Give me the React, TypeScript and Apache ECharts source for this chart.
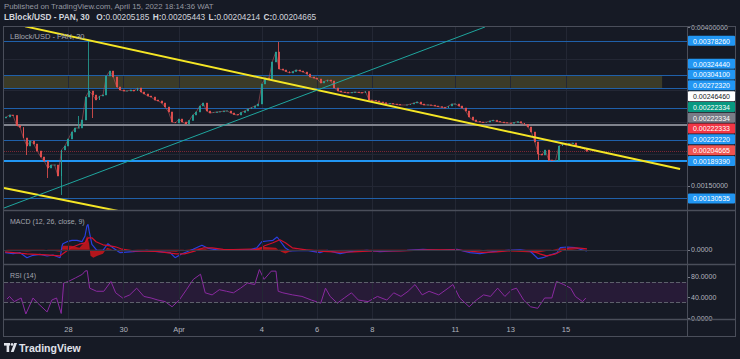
import React, { useEffect, useRef } from "react";
import * as echarts from "echarts";

// ---------- text ----------
const publishedText = "Published on TradingView.com, April 15, 2022 18:14:36 WAT";
const symbolTitle = "LBlock/USD - PAN, 30";
const ohlcNames = ["O", "H", "L", "C"];
const ohlcValues = [0.00205185, 0.00205443, 0.00204214, 0.00204665];
const macdTitle = "MACD (12, 26, close, 9)";
const rsiTitle = "RSI (14)";
const brandText = "TradingView";

// ---------- price candles (day index counted from Mar 25 00:00, 3-hour candles) ----------
const candleStartDay = 0.75;
const candleStepDays = 0.125;
const firstOpen = 0.002569;
const closes = [
  0.002585, 0.002616, 0.002609, 0.002451, 0.002423, 0.002255, 0.002129, 0.002208, 0.00216, 0.00205,
  0.001956, 0.001893, 0.001783, 0.00183, 0.00183, 0.001657, 0.002066, 0.002129, 0.002239, 0.002349,
  0.002412, 0.002412, 0.002538, 0.002899, 0.002994, 0.002931, 0.002852, 0.002915, 0.002931, 0.00323,
  0.003308, 0.003214, 0.003057, 0.003009, 0.002994, 0.002994, 0.003009, 0.002994, 0.003041, 0.002978,
  0.002947, 0.002915, 0.002899, 0.002852, 0.002837, 0.002805, 0.002742, 0.002664, 0.002506, 0.002491,
  0.002553, 0.002506, 0.002475, 0.00253, 0.002616, 0.002664, 0.002758, 0.002805, 0.002679, 0.002648,
  0.002656, 0.002664, 0.002668, 0.002679, 0.002679, 0.002648, 0.002624, 0.002616, 0.002656, 0.002679,
  0.002711, 0.002734, 0.002758, 0.002789, 0.003104, 0.003198, 0.003182, 0.00345, 0.003607, 0.00334,
  0.003324, 0.0033, 0.003277, 0.0033, 0.003324, 0.003308, 0.003292, 0.003261, 0.003214, 0.003198,
  0.003182, 0.00312, 0.003143, 0.003167, 0.003151, 0.003041, 0.002994, 0.002978, 0.00297, 0.002962,
  0.00297, 0.002978, 0.00297, 0.002962, 0.002986, 0.002852, 0.002844, 0.002837, 0.002821, 0.00281,
  0.002789, 0.002797, 0.002789, 0.002781, 0.002774, 0.002774, 0.002774, 0.002789, 0.002805, 0.002821,
  0.002789, 0.002774, 0.002774, 0.00277, 0.002758, 0.002748, 0.002737, 0.002726, 0.002758, 0.002789,
  0.002789, 0.002758, 0.002726, 0.002679, 0.002585, 0.002538, 0.002514, 0.002506, 0.002498, 0.002506,
  0.002522, 0.002533, 0.002514, 0.002506, 0.002495, 0.002491, 0.002486, 0.002498, 0.002511, 0.002491,
  0.002467, 0.002428, 0.002349, 0.002192, 0.002003, 0.001987, 0.002066, 0.001909, 0.001901, 0.001901,
  0.002129, 0.00216, 0.002145, 0.002168, 0.002176, 0.002121, 0.002105, 0.00209, 0.00204665,
];
const wickLows: [number, number][] = [
  [6, 0.001987], [12, 0.001626], [16, 0.001359], [25, 0.002569],
  [154, 0.001909], [157, 0.001894], [159, 0.001894], [160, 0.001894],
];
const wickHighs: [number, number][] = [
  [21, 0.002601], [24, 0.0038], [79, 0.003764],
];

// ---------- axes ----------
const timeTickDays = [3, 5, 7, 10, 12, 14, 17, 19, 21];
const timeTickLabels = ["28", "30", "Apr", "4", "6", "8", "11", "13", "15"];
const priceTickValues = [0.0015, 0.004];
const priceGridValues = [0.0015, 0.002, 0.0025, 0.003, 0.0035];
const macdTickValues = [0];
const rsiTickValues = [0, 40, 80];
const rsiBand = [30, 70];

// ---------- drawings ----------
const levelPrices = [0.0037826, 0.0032444, 0.003041, 0.0027232, 0.0024646, 0.0022222, 0.0018939, 0.00130535];
const levelKinds = ["level", "level", "level", "level", "pivot", "level", "support", "level"];
const currentPrice = 0.00204665;
const tagPrices = [0.0037826, 0.0032444, 0.003041, 0.0027232, 0.0024646, 0.00222334, 0.00222334, 0.00222333, 0.0022222, 0.00204665, 0.0018939, 0.00130535];
const tagKinds = ["level", "level", "level", "level", "pivot", "open", "prev", "low", "level", "last", "level", "level"];
const zoneDays = [0.67, 24.48];
const zonePrices = [0.003041, 0.0032444];
const upperTrend = [[1.43, 0.00401], [25.13, 0.001767]];
const lowerTrend = [[0.67, 0.001469], [5.0, 0.00109]];
const risingTrend = [[0.67, 0.001154], [18.07, 0.004]];

// ---------- indicators ----------
const macdLine = [
  [0.71, -0.0000145], [1.0, -0.0000195], [1.25, -0.0000145], [1.5, -0.0000395], [1.72, -0.0000275],
  [1.97, -0.0000225], [2.23, -0.000031], [2.44, -0.000026], [2.7, -0.0000395], [2.77, 0.000019],
  [2.8, 0.0000305], [2.95, 0.0000405], [3.13, 0.0000475], [3.31, 0.0000475], [3.49, 0.0000405],
  [3.6, 0.000069], [3.67, 0.000119], [3.71, 0.0001275], [3.75, 0.000094], [3.85, 0.0000275],
  [4.03, -0.0000025], [4.25, -0.0000025], [4.43, 0.0000305], [4.61, 0.0000105], [4.87, -0.0000145],
  [5.34, -0.0000095], [5.84, -0.0000025], [6.21, -0.0000095], [6.68, -0.0000145], [6.86, -0.0000395],
  [7.11, -0.0000195], [7.51, 0.0000025], [7.83, 0.0000225], [8.05, 0.0000075], [8.48, -0.0000025],
  [8.96, -0.000001], [9.57, -0.000001], [9.82, 0.0000105], [10.0, 0.0000405], [10.19, 0.000044],
  [10.4, 0.0000475], [10.55, 0.000064], [10.66, 0.000044], [10.84, 0.0000105], [11.02, -0.000006],
  [11.63, -0.0000025], [12.1, -0.0000145], [12.36, -0.0000025], [12.83, -0.0000195], [13.19, -0.0000095],
  [13.8, -0.0000025], [14.27, -0.0000095], [14.74, -0.000006], [15.25, -0.0000025], [15.83, 0.0000025],
  [16.44, -0.0000025], [17.06, 0.0000025], [17.53, -0.0000145], [17.89, -0.0000195], [18.36, -0.0000095],
  [18.87, -0.0000025], [19.34, 0], [19.7, -0.000006], [19.99, -0.0000445], [20.17, -0.0000395],
  [20.42, -0.000026], [20.68, -0.0000145], [20.79, 0.0000105], [21.04, 0.000014], [21.33, 0.0000105],
  [21.51, 0.0000025], [21.76, -0.000006],
];
const signalLine = [
  [0.71, -0.00001], [1.5, -0.00002], [2.2, -0.000025], [2.7, -0.00003], [2.9, -0.00001], [3.1, 0.00001],
  [3.4, 0.000028], [3.6, 0.000035], [3.72, 0.00006], [3.85, 0.00006], [4.0, 0.00004], [4.25, 0.000025],
  [4.5, 0.00002], [4.7, 0.000015], [4.9, 0.000005], [5.3, -0.000005], [6.2, -0.000008], [6.9, -0.00002],
  [7.2, -0.00002], [7.6, -0.000005], [7.9, 0.00001], [8.2, 0.00001], [8.6, 0.000002], [9.6, -0.000001],
  [9.9, 0.000003], [10.1, 0.00002], [10.4, 0.000035], [10.65, 0.00005], [10.85, 0.000035], [11.1, 0.00001],
  [11.6, 0], [12.2, -0.000008], [12.8, -0.000012], [13.3, -0.00001], [14.0, -0.000005], [15.0, -0.000005],
  [16.0, 0], [17.0, 0], [17.6, -0.000008], [18.0, -0.000013], [18.5, -0.00001], [19.0, -0.000004],
  [19.7, -0.000004], [20.05, -0.00002], [20.3, -0.00003], [20.6, -0.000022], [20.85, -0.000005],
  [21.1, 0.000008], [21.4, 0.00001], [21.76, 0.000005],
];
const macdHist = [
  [0.71, 0], [1.5, -0.000008], [2.2, 0], [2.7, -0.00001], [2.8, 0.00002], [3.1, 0.00002], [3.4, 0.00001],
  [3.6, 0.00004], [3.68, 0.00007], [3.75, 0.00003], [3.8, -0.00003], [3.9, -0.00004], [4.05, -0.00003],
  [4.25, -0.00002], [4.4, 0.00001], [4.6, 0], [4.9, -0.000008], [5.3, 0], [6.9, -0.00001], [7.2, 0],
  [7.8, 0.000008], [8.1, 0], [9.8, 0.000008], [10.0, 0.000015], [10.5, 0.00001], [10.7, -0.00001],
  [10.85, -0.000018], [11.0, -0.00001], [11.3, 0], [12.1, -0.000005], [12.4, 0], [17.5, -0.000005],
  [18.0, 0], [19.95, -0.000015], [20.2, -0.000008], [20.5, 0], [20.8, 0.000008], [21.1, 0.000005],
  [21.5, 0], [21.76, -0.000004],
];
const rsiLine = [
  [0.78, 37], [0.87, 42], [1.04, 32], [1.29, 39], [1.46, 8], [1.72, 39], [1.89, 29], [2.23, 12], [2.4, 35],
  [2.57, 39], [2.74, 9], [2.83, 68], [3.0, 71], [3.26, 78], [3.51, 85], [3.6, 91], [3.68, 92], [3.77, 58],
  [4.02, 52], [4.28, 52], [4.54, 71], [4.71, 49], [4.96, 39], [5.22, 45], [5.47, 58], [5.73, 42], [5.99, 39],
  [6.24, 35], [6.5, 32], [6.75, 22], [7.01, 35], [7.27, 55], [7.52, 75], [7.78, 85], [7.95, 49], [8.2, 45],
  [8.46, 55], [8.72, 52], [8.97, 49], [9.23, 58], [9.48, 68], [9.74, 65], [9.91, 94], [10.08, 75],
  [10.34, 91], [10.51, 91], [10.59, 52], [10.76, 49], [11.11, 45], [11.45, 42], [11.79, 35], [12.13, 29],
  [12.3, 58], [12.47, 42], [12.73, 29], [12.98, 39], [13.24, 49], [13.49, 35], [13.84, 32], [14.18, 42],
  [14.52, 35], [14.77, 49], [15.03, 42], [15.29, 52], [15.54, 65], [15.8, 45], [16.05, 52], [16.4, 45],
  [16.74, 58], [16.91, 65], [17.16, 39], [17.5, 22], [17.76, 35], [18.02, 45], [18.27, 42], [18.53, 58],
  [18.79, 42], [19.04, 55], [19.21, 58], [19.47, 35], [19.72, 22], [19.98, 19], [20.23, 39], [20.49, 39],
  [20.66, 71], [20.92, 65], [21.17, 58], [21.34, 42], [21.6, 32], [21.72, 39],
];

// ---------- layout / style ----------
const BG = "#161a25";
const FRAME = "#4a4e5a";
const TEXT = "#b2b5be";
const FONT = "Liberation Sans";
const X_MIN = 0.67;
const X_MAX = 25.38;
const PRICE_MIN = 0.0011226;
const PRICE_MAX = 0.004;
const MACD_MIN = -0.000071;
const MACD_MAX = 0.000194;
const RSI_MIN = -1.7;
const RSI_MAX = 104.8;
const PANE_LEFT = 4;
const AXIS_X = 687;
const RIGHT_EDGE = 735;
const TAG_STEP = 10.8;
const TAG_H = 10;
const GRID_COLOR = "#232734";

const levelStyle: Record<string, any> = {
  level: { color: "#1f60aa", width: 1, type: "solid" },
  pivot: { color: "#80838d", width: 2, type: "solid" },
  support: { color: "#2196f3", width: 2, type: "solid" },
};
const tagStyle: Record<string, { bg: string; fg: string }> = {
  level: { bg: "#2196f3", fg: "#ffffff" },
  pivot: { bg: "#ffffff", fg: "#131722" },
  open: { bg: "#089981", fg: "#ffffff" },
  prev: { bg: "#787b86", fg: "#ffffff" },
  low: { bg: "#f23645", fg: "#ffffff" },
  last: { bg: "#ef5350", fg: "#ffffff" },
};

function buildCandles() {
  const lows = new Map(wickLows);
  const highs = new Map(wickHighs);
  return closes.map((c, i) => {
    const o = i === 0 ? firstOpen : closes[i - 1];
    const lo = Math.min(o, c, lows.has(i) ? (lows.get(i) as number) : Infinity);
    const hi = Math.max(o, c, highs.has(i) ? (highs.get(i) as number) : -Infinity);
    return [candleStartDay + i * candleStepDays, o, c, lo, hi];
  });
}

const vGrid = () =>
  timeTickDays.map((d) => ({ xAxis: d, lineStyle: { color: GRID_COLOR, width: 1, type: "solid" } }));

function buildOption(): any {
  const hideAxis = { axisLine: { show: false }, axisTick: { show: false }, splitLine: { show: false } };
  const xAxis = [0, 1, 2].map((g) => ({
    type: "value",
    gridIndex: g,
    min: X_MIN,
    max: X_MAX,
    ...hideAxis,
    axisLabel:
      g === 2
        ? {
            show: true,
            customValues: timeTickDays,
            formatter: (v: number) => timeTickLabels[timeTickDays.indexOf(v)] ?? "",
            color: TEXT,
            fontSize: 7.5,
            fontFamily: FONT,
            margin: 6,
          }
        : { show: false },
  }));
  const yAxisCommon = (g: number, min: number, max: number, ticks: number[], digits: number) => ({
    type: "value",
    gridIndex: g,
    position: "right",
    min,
    max,
    axisLine: { show: false },
    splitLine: { show: false },
    axisTick: { show: true, customValues: ticks, length: 3, lineStyle: { color: "#787b86" } },
    axisLabel: {
      show: true,
      customValues: ticks,
      formatter: (v: number) => v.toFixed(digits),
      color: TEXT,
      fontSize: 7,
      fontFamily: FONT,
      margin: 4,
    },
  });
  const mlBase = { symbol: ["none", "none"], silent: true, animation: false, precision: 10, label: { show: false } };
  const candles = buildCandles();

  return {
    animation: false,
    backgroundColor: BG,
    grid: [
      { left: PANE_LEFT, right: 740 - AXIS_X, top: 27, height: 183 },
      { left: PANE_LEFT, right: 740 - AXIS_X, top: 211, height: 53 },
      { left: PANE_LEFT, right: 740 - AXIS_X, top: 264, height: 55 },
    ],
    xAxis,
    yAxis: [
      yAxisCommon(0, PRICE_MIN, PRICE_MAX, priceTickValues, 8),
      yAxisCommon(1, MACD_MIN, MACD_MAX, macdTickValues, 4),
      yAxisCommon(2, RSI_MIN, RSI_MAX, rsiTickValues, 4),
    ],
    series: [
      // grid, zone and horizontal levels
      {
        type: "line",
        xAxisIndex: 0,
        yAxisIndex: 0,
        data: lowerTrend,
        showSymbol: false,
        clip: true,
        lineStyle: { color: "#f5e625", width: 2 },
        z: 5,
        markArea: {
          silent: true,
          itemStyle: { color: "rgba(255,235,59,0.16)" },
          data: [[{ xAxis: zoneDays[0], yAxis: zonePrices[0] }, { xAxis: zoneDays[1], yAxis: zonePrices[1] }]],
        },
        markLine: {
          ...mlBase,
          data: [
            ...vGrid(),
            ...priceGridValues.map((p) => ({ yAxis: p, lineStyle: { color: GRID_COLOR, width: 1, type: "solid" } })),
            ...levelPrices.map((p, i) => ({ yAxis: p, lineStyle: { ...levelStyle[levelKinds[i]] } })),
            { yAxis: currentPrice, lineStyle: { color: "rgba(242,54,69,0.45)", width: 1, type: "dotted" } },
          ],
        },
      },
      {
        type: "line",
        xAxisIndex: 0,
        yAxisIndex: 0,
        data: candles.map((c) => [c[0], c[2]]),
        showSymbol: false,
        lineStyle: { color: "#b8555a", width: 0.8, opacity: 0.75 },
        z: 6,
      },
      {
        type: "candlestick",
        xAxisIndex: 0,
        yAxisIndex: 0,
        data: candles,
        encode: { x: 0, y: [1, 2, 3, 4] },
        barWidth: 1.4,
        itemStyle: {
          color: "#26a69a",
          color0: "#ef5350",
          borderColor: "#26a69a",
          borderColor0: "#ef5350",
          borderWidth: 0.8,
        },
        z: 7,
      },
      {
        type: "line",
        xAxisIndex: 0,
        yAxisIndex: 0,
        data: upperTrend,
        showSymbol: false,
        clip: true,
        lineStyle: { color: "#f5e625", width: 2 },
        z: 8,
      },
      {
        type: "line",
        xAxisIndex: 0,
        yAxisIndex: 0,
        data: risingTrend,
        showSymbol: false,
        clip: true,
        lineStyle: { color: "#1fa69e", width: 1 },
        z: 8,
      },
      {
        type: "line",
        xAxisIndex: 1,
        yAxisIndex: 1,
        data: macdHist,
        showSymbol: false,
        lineStyle: { width: 0 },
        areaStyle: { color: "#c4161c", opacity: 0.9 },
        markLine: {
          ...mlBase,
          data: [...vGrid(), { yAxis: 0, lineStyle: { color: "#363a46", width: 1, type: "solid" } }],
        },
      },
      {
        type: "line",
        xAxisIndex: 1,
        yAxisIndex: 1,
        data: macdLine,
        showSymbol: false,
        lineStyle: { color: "#2a3fe0", width: 1.2 },
      },
      {
        type: "line",
        xAxisIndex: 1,
        yAxisIndex: 1,
        data: signalLine,
        showSymbol: false,
        lineStyle: { color: "#d0102a", width: 1.2 },
      },
      {
        type: "line",
        xAxisIndex: 2,
        yAxisIndex: 2,
        data: rsiLine,
        showSymbol: false,
        lineStyle: { color: "#8a2aa0", width: 1 },
        markArea: {
          silent: true,
          itemStyle: { color: "rgba(156,39,176,0.13)" },
          data: [[{ yAxis: rsiBand[0] }, { yAxis: rsiBand[1] }]],
        },
        markLine: {
          ...mlBase,
          data: [
            ...vGrid(),
            ...rsiBand.map((v) => ({ yAxis: v, lineStyle: { color: "#5d606b", width: 1, type: "dashed" } })),
          ],
        },
      },
    ],
  };
}

function staticGraphics(): any[] {
  const line = (x1: number, y1: number, x2: number, y2: number, w = 1, c = FRAME) => ({
    type: "line",
    silent: true,
    z: 20,
    shape: { x1, y1, x2, y2 },
    style: { stroke: c, lineWidth: w },
  });
  const txt = (x: number, y: number, text: string, size: number, fill: string, weight = "normal") => ({
    type: "text",
    silent: true,
    z: 20,
    x,
    y,
    style: { text, fill, fontSize: size, fontFamily: FONT, fontWeight: weight, verticalAlign: "middle", align: "left" },
  });
  const ohlcRich = ohlcNames
    .map((n, i) => `{b|${n}:}{n|${ohlcValues[i].toFixed(8)}}`)
    .join(" ");
  return [
    line(3, 26.5, RIGHT_EDGE, 26.5),
    line(3, 336.5, RIGHT_EDGE, 336.5),
    line(3.5, 26, 3.5, 337),
    line(RIGHT_EDGE + 0.5, 26, RIGHT_EDGE + 0.5, 337),
    line(AXIS_X + 0.5, 26, AXIS_X + 0.5, 337),
    line(3, 210.5, RIGHT_EDGE, 210.5, 1.5),
    line(3, 264.5, RIGHT_EDGE, 264.5, 1.5),
    line(3, 319.5, RIGHT_EDGE, 319.5, 1.5),
    txt(4, 6.5, publishedText, 7.8, "#9598a1"),
    {
      type: "text",
      silent: true,
      z: 20,
      x: 4,
      y: 17,
      style: {
        text: `{t|${symbolTitle}}  ${ohlcRich}`,
        verticalAlign: "middle",
        rich: {
          t: { fill: "#d1d4dc", fontSize: 8.3, fontFamily: FONT, fontWeight: "bold" },
          b: { fill: "#d1d4dc", fontSize: 8.3, fontFamily: FONT, fontWeight: "bold" },
          n: { fill: "#d1d4dc", fontSize: 8.3, fontFamily: FONT },
        },
      },
    },
    txt(10, 36, symbolTitle, 7.5, "#a3a6af"),
    txt(10, 221, macdTitle, 7, "#a3a6af"),
    txt(10, 275, rsiTitle, 7, "#a3a6af"),
    // TradingView brand mark
    { type: "rect", silent: true, z: 20, shape: { x: 4, y: 343, width: 6, height: 2.6 }, style: { fill: "#e0e3eb" } },
    { type: "rect", silent: true, z: 20, shape: { x: 6.6, y: 343, width: 2.6, height: 9 }, style: { fill: "#e0e3eb" } },
    { type: "circle", silent: true, z: 20, shape: { cx: 12, cy: 344.4, r: 1.4 }, style: { fill: "#e0e3eb" } },
    {
      type: "polygon",
      silent: true,
      z: 20,
      shape: { points: [[14.2, 343], [17, 343], [13.6, 352], [10.8, 352]] },
      style: { fill: "#e0e3eb" },
    },
    txt(19, 347.5, brandText, 10.5, "#e0e3eb", "bold"),
  ];
}

export default function App() {
  const ref = useRef<HTMLDivElement>(null);
  useEffect(() => {
    if (!ref.current) return;
    const chart = echarts.init(ref.current, null, { renderer: "svg", width: 740, height: 359 });
    chart.setOption(buildOption());

    // price tags on the right scale, stacked so they do not overlap
    const px = tagPrices.map((p) => chart.convertToPixel({ yAxisIndex: 0 }, p) as number);
    const placed: number[] = new Array(tagPrices.length);
    let prev = Infinity;
    for (let i = tagPrices.length - 1; i >= 0; i--) {
      const y = Math.min(px[i], prev - TAG_STEP);
      placed[i] = y;
      prev = y;
    }
    const tags: any[] = [];
    tagPrices.forEach((p, i) => {
      const st = tagStyle[tagKinds[i]];
      const yc = placed[i];
      tags.push({
        type: "rect",
        silent: true,
        z: 30,
        shape: { x: AXIS_X + 1, y: yc - TAG_H / 2, width: RIGHT_EDGE - AXIS_X - 1, height: TAG_H, r: 1 },
        style: { fill: st.bg },
      });
      tags.push({
        type: "text",
        silent: true,
        z: 31,
        x: (AXIS_X + RIGHT_EDGE) / 2 + 0.5,
        y: yc + 0.3,
        style: {
          text: p.toFixed(8),
          fill: st.fg,
          fontSize: 7,
          fontFamily: FONT,
          align: "center",
          verticalAlign: "middle",
        },
      });
    });
    chart.setOption({ graphic: [...staticGraphics(), ...tags] });
    return () => chart.dispose();
  }, []);
  return (
    <div
      ref={ref}
      style={{ position: "fixed", left: 0, top: 0, width: 740, height: 359, background: BG }}
    />
  );
}
